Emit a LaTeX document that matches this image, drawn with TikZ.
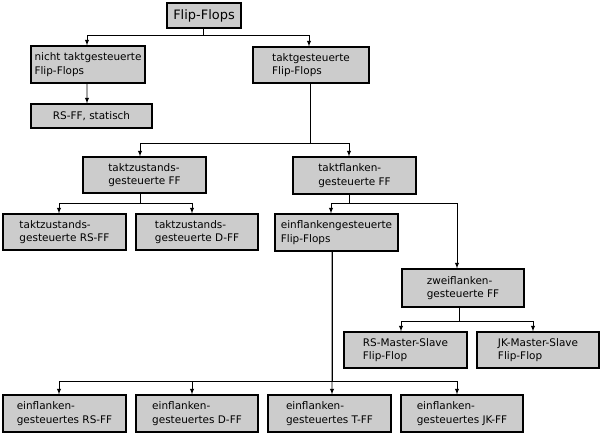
\documentclass[tikz,border=0pt]{standalone}
\usepackage{fontspec}
\setmainfont{DejaVu Sans}
\usepackage{tikz}
\definecolor{boxgray}{RGB}{204,204,204}
\tikzset{
	ffbox/.style={draw, fill=boxgray, line width=1.2bp, align=left, inner sep=0pt,
		minimum width=123bp, minimum height=36bp, font=\fontsize{10.5}{13.5}\selectfont},
	conn/.style={line width=0.9bp, -latex}
}

\begin{document}
\begin{tikzpicture}[x=1bp,y=-1bp]
		\useasboundingbox (0,0) rectangle (603,436);
		
		\node[ffbox, minimum width=74bp, minimum height=25bp, font=\fontsize{13}{15}\selectfont] (ff) at (204,15.5) {Flip-Flops};
		\node[ffbox, minimum width=114bp, minimum height=37bp] (nicht) at (88,64.5) {nicht taktgesteuerte\\Flip-Flops};
		\node[ffbox, minimum width=116bp] (takt) at (311,65) {taktgesteuerte\\Flip-Flops};
		\node[ffbox, minimum width=121bp, minimum height=24bp] (statisch) at (91.5,116) {RS-FF, statisch};
		\node[ffbox] (zustand) at (144.5,175) {taktzustands-\\gesteuerte FF};
		\node[ffbox, minimum height=37bp] (flanken) at (354.5,175.5) {taktflanken-\\gesteuerte FF};
		\node[ffbox] (zrs) at (64.5,232) {taktzustands-\\gesteuerte RS-FF};
		\node[ffbox, minimum width=122bp] (zd) at (197,232) {taktzustands-\\gesteuerte D-FF};
		\node[ffbox, minimum height=37bp] (einfl) at (336.5,232.5) {einflankengesteuerte\\Flip-Flops};
		\node[ffbox, minimum width=122bp, minimum height=38bp] (zweifl) at (463,288) {zweiflanken-\\gesteuerte FF};
		\node[ffbox] (rsms) at (405.5,350) {RS-Master-Slave\\Flip-Flop};
		\node[ffbox, minimum width=122bp] (jkms) at (538,350) {JK-Master-Slave\\Flip-Flop};
		\node[ffbox, minimum height=37bp] (ers) at (64.5,413.5) {einflanken-\\gesteuertes RS-FF};
		\node[ffbox, minimum width=122bp, minimum height=37bp] (ed) at (197,413.5) {einflanken-\\gesteuertes D-FF};
		\node[ffbox, minimum height=37bp] (et) at (329.5,413.5) {einflanken-\\gesteuertes T-FF};
		\node[ffbox, minimum width=122bp, minimum height=37bp] (ejk) at (462,413.5) {einflanken-\\gesteuertes JK-FF};
		
		
		\draw[conn] ([xshift=-1bp]ff.south) -- ++(0,7) -| ([xshift=-1bp]nicht.north);
		\draw[conn] ([xshift=-1bp]ff.south) -- ++(0,7) -| ([xshift=-2bp]takt.north);
		\draw[conn] ([xshift=-1bp]nicht.south) -- ([xshift=-4.5bp]statisch.north);
		\draw[conn] ([xshift=-1bp]takt.south) -- ++(0,60) -| ([xshift=-4.5bp]zustand.north);
		\draw[conn] ([xshift=-1bp]takt.south) -- ++(0,60) -| ([xshift=-5.5bp]flanken.north);
		\draw[conn] ([xshift=-4.5bp]zustand.south) -- ++(0,10) -| ([xshift=-5.5bp]zrs.north);
		\draw[conn] ([xshift=-4.5bp]zustand.south) -- ++(0,10) -| ([xshift=-5bp]zd.north);
		\draw[conn] ([xshift=-5.5bp]flanken.south) -- ++(0,9) -| ([xshift=-5.5bp]einfl.north);
		\draw[conn] ([xshift=-5.5bp]flanken.south) -- ++(0,9) -| ([xshift=-6bp]zweifl.north);
		\draw[conn] ([xshift=-4bp]zweifl.south) -- ++(0,14) -| ([xshift=-4.5bp]rsms.north);
		\draw[conn] ([xshift=-4bp]zweifl.south) -- ++(0,14) -| ([xshift=-5bp]jkms.north);
		\draw[conn] ([xshift=-4.5bp]einfl.south) -- ++(0,130) -| ([xshift=-5.5bp]ers.north);
		\draw[conn] ([xshift=-4.5bp]einfl.south) -- ++(0,130) -| ([xshift=-5bp]ed.north);
		\draw[conn] ([xshift=-4.5bp]einfl.south) -- ([xshift=2.5bp]et.north);
		\draw[conn] ([xshift=-4.5bp]einfl.south) -- ++(0,130) -| ([xshift=-5bp]ejk.north);
	\end{tikzpicture}
\end{document}
